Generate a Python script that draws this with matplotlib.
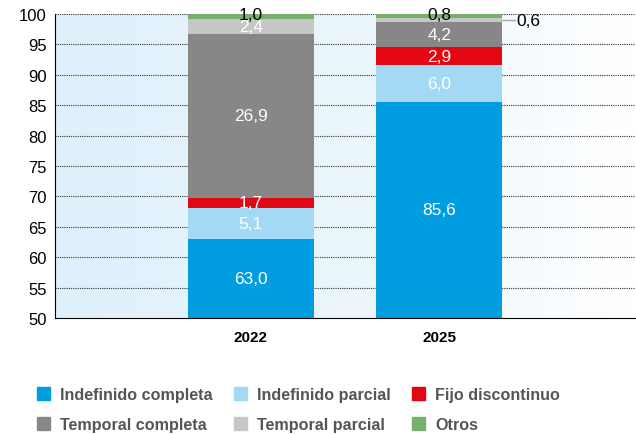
import numpy as np
import matplotlib.pyplot as plt
from matplotlib.patches import Patch
from matplotlib.colors import LinearSegmentedColormap

plt.rcParams['font.family'] = ['Liberation Sans', 'DejaVu Sans']

years = ["2022", "2025"]
series = ["Indefinido completa", "Indefinido parcial", "Fijo discontinuo",
          "Temporal completa", "Temporal parcial", "Otros"]
ind_completa = [63.0, 85.6]
ind_parcial = [5.1, 6.0]
fijo_disc = [1.7, 2.9]
temp_completa = [26.9, 4.2]
temp_parcial = [2.4, 0.6]
otros = [1.0, 0.8]
values = [ind_completa, ind_parcial, fijo_disc, temp_completa, temp_parcial, otros]
colors = ["#009ee0", "#a3d9f5", "#e30613", "#878787", "#c6c6c6", "#76b06c"]

fig = plt.figure(figsize=(6.36, 4.35), dpi=100)
ax = fig.add_axes([0.0865, 0.2667, 0.912, 0.6988])

x = np.arange(len(years))
ymin, ymax = 50, 100
ax.set_xlim(-1.037, 2.037)
ax.set_ylim(ymin, ymax)

# fondo degradado
cmap = LinearSegmentedColormap.from_list("bg", ["#dff0fb", "#eaf5fc", "#ffffff"])
grad = np.linspace(0, 1, 256).reshape(1, -1)
ax.imshow(grad, cmap=cmap, aspect="auto", extent=[-1.037, 2.037, ymin, ymax], zorder=0)

for yv in range(55, 101, 5):
    ax.axhline(yv, color="#333333", lw=0.8, ls=(0, (1, 1)), zorder=1)

fs = 12.5
bottom = np.zeros(len(years))
for name, vals, c in zip(series, values, colors):
    vals = np.array(vals)
    ax.bar(x, vals, 0.667, bottom=bottom, color=c, zorder=2, label=name)
    for i in range(len(years)):
        lab = f"{vals[i]:.1f}".replace(".", ",")
        lo = max(bottom[i], ymin)
        hi = min(bottom[i] + vals[i], ymax)
        mid = (lo + hi) / 2
        if name == "Otros":
            ax.text(x[i], 100, lab, ha="center", va="center", fontsize=fs,
                    color="black", zorder=4)
        elif name == "Temporal parcial" and vals[i] < 1:
            ax.plot([x[i] + 0.333, x[i] + 0.4], [mid, mid], color="#aaaaaa",
                    lw=1, zorder=3, clip_on=False)
            ax.text(x[i] + 0.41, mid, lab, ha="left", va="center", fontsize=fs,
                    color="black", zorder=4)
        else:
            ax.text(x[i], mid, lab, ha="center", va="center", fontsize=fs,
                    color="white", zorder=4)
    bottom += vals

ax.set_xticks(x)
ax.set_xticklabels(years, fontsize=11, fontweight="bold")
ax.set_yticks(range(50, 101, 5))
ax.tick_params(axis="y", labelsize=12, length=0, pad=6)
ax.tick_params(axis="x", length=0, pad=9)
for s in ["top", "right"]:
    ax.spines[s].set_visible(False)
ax.spines["left"].set_color("black")
ax.spines["bottom"].set_color("black")
ax.spines["left"].set_zorder(5)
ax.spines["bottom"].set_zorder(5)

order = [0, 3, 1, 4, 2, 5]
handles = [Patch(color=colors[k]) for k in order]
labels = [series[k] for k in order]
leg = fig.legend(handles, labels, ncol=3, loc="lower left",
                 bbox_to_anchor=(0.035, -0.028), frameon=False,
                 handlelength=0.85, handleheight=0.85, handletextpad=0.6,
                 columnspacing=1.3, labelspacing=0.88,
                 prop={"size": 11.6, "weight": "bold"})
for t in leg.get_texts():
    t.set_color("#555555")

fig.savefig("out.png", dpi=100)
